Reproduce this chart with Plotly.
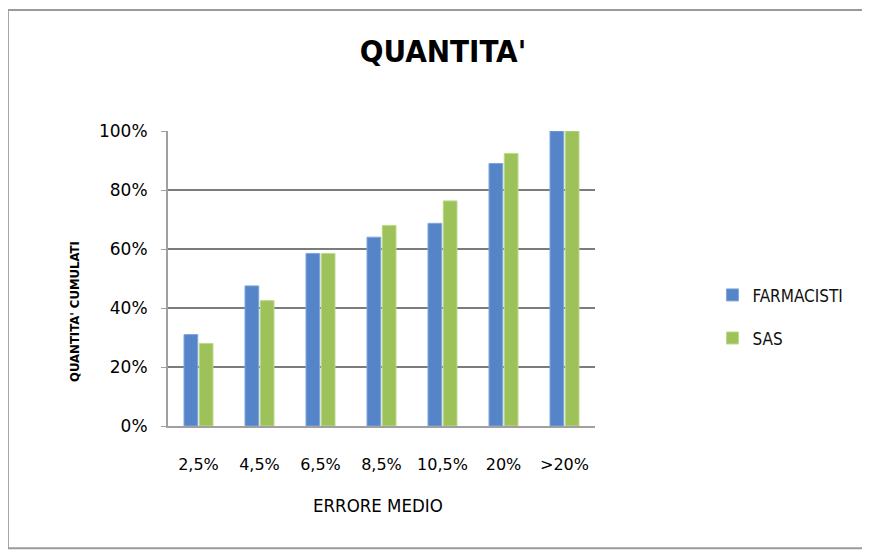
import plotly.graph_objects as go

categories = ["2,5%", "4,5%", "6,5%", "8,5%", "10,5%", "20%", ">20%"]
farmacisti = [0.31, 0.475, 0.585, 0.64, 0.687, 0.89, 1.0]
sas = [0.28, 0.425, 0.585, 0.68, 0.763, 0.924, 1.0]
y_ticks = [0, 0.2, 0.4, 0.6, 0.8, 1.0]
y_tick_labels = ["0%", "20%", "40%", "60%", "80%", "100%"]

font_wide = "DejaVu Sans, sans-serif"
font_narrow = "DejaVu Sans Condensed, DejaVu Sans, sans-serif"

fig = go.Figure()
fig.add_trace(go.Bar(name="FARMACISTI", x=categories, y=farmacisti, legendgroup="a",
                     marker=dict(color="#5585C8", line=dict(color="#7fa6dc", width=1))))
fig.add_trace(go.Bar(name="SAS", x=categories, y=sas, legendgroup="b",
                     marker=dict(color="#9DC25A", line=dict(color="#bcd98a", width=1))))

# plot area (page coords incl. 8px body offset): x 168..595, y 131..426
L, T, B = 160, 123, 142
fig.update_layout(
    width=870, height=560,
    paper_bgcolor="white", plot_bgcolor="white",
    margin=dict(l=L, r=870 - L - 427, t=T, b=B),
    barmode="group", bargap=0.5, bargroupgap=0.1,
    title=dict(text="<b>QUANTITA'</b>", x=0.5, xanchor="center", xref="container",
               y=1 - 43 / 560, yanchor="middle", yref="container",
               font=dict(family=font_narrow, size=31, color="black")),
    font=dict(family=font_wide, size=16, color="black"),
    legend=dict(x=1.275, y=0.37, xanchor="left", yanchor="middle",
                font=dict(family=font_narrow, size=17, color="#111"), itemwidth=30,
                traceorder="grouped", tracegroupgap=18,
                bgcolor="rgba(0,0,0,0)"),
    showlegend=True,
)
fig.update_xaxes(
    showline=True, linecolor="#a0a0a0", linewidth=2,
    ticks="", ticklabelstandoff=23, tickfont=dict(size=16),
)
fig.update_yaxes(
    range=[0, 1.0], tickvals=y_ticks, ticktext=y_tick_labels,
    showgrid=True, gridcolor="#7c7c7c", gridwidth=2,
    showline=True, linecolor="#a0a0a0", linewidth=2,
    ticks="outside", ticklen=5, tickcolor="#a0a0a0",
    ticklabelstandoff=10, tickfont=dict(size=17),
    zeroline=False,
)
# axis titles
fig.add_annotation(text="<b>QUANTITA' CUMULATI</b>", xref="paper", yref="paper",
                   x=(74 - 8 - L) / 427, y=(418 - 304) / 295, xanchor="center", yanchor="middle",
                   textangle=-90, showarrow=False,
                   font=dict(family=font_narrow, size=13, color="black"))
fig.add_annotation(text="ERRORE MEDIO", xref="paper", yref="paper",
                   x=(378 - 8 - L) / 427, y=-(497 - 418) / 295, xanchor="center", yanchor="middle",
                   showarrow=False,
                   font=dict(family=font_narrow, size=18.5, color="black"))
# chart border
fig.add_shape(type="rect", xref="paper", yref="paper",
              x0=-0.375, x1=1.632, y0=-0.414, y1=1.41,
              line=dict(color="#9a9a9a", width=2), fillcolor="rgba(0,0,0,0)", layer="below")

fig.write_html("out.html")
